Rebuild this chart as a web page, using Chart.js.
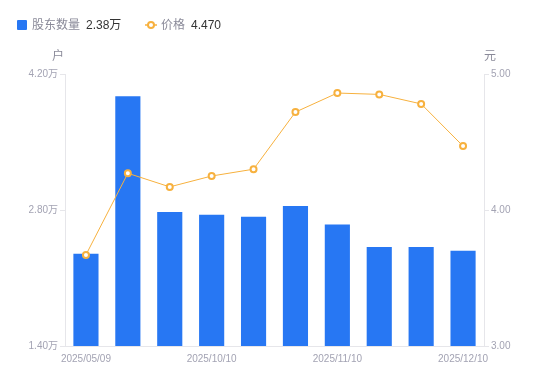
<!DOCTYPE html>
<html><head><meta charset="utf-8">
<script src="https://cdn.jsdelivr.net/npm/chart.js@4/dist/chart.umd.min.js"></script>
<style>
html,body{margin:0;padding:0;background:#fff;}
#wrap{position:relative;width:550px;height:381px;}
#legend{position:absolute;left:0;top:0;width:550px;height:40px;font-family:"Liberation Sans","Noto Sans CJK SC",sans-serif;font-size:12px;}
.lg{position:absolute;top:17px;line-height:16px;white-space:nowrap;}
.nm{color:#8a8a99;}
.vl{color:#333;margin-left:6px;}
</style></head>
<body>
<div id="wrap">
<canvas id="c" width="550" height="381"></canvas>
<div id="legend">
 <div class="lg" style="left:17px;"><span style="display:inline-block;width:10px;height:10px;background:#2777f3;border-radius:1px;vertical-align:-1px;margin-right:5px;"></span><span class="nm">股东数量</span><span class="vl">2.38万</span></div>
 <div class="lg" style="left:145px;"><svg width="12" height="10" style="vertical-align:-1px;margin-right:4px;"><line x1="0" y1="5" x2="12" y2="5" stroke="#f7b13e" stroke-width="1.5"/><circle cx="6" cy="5" r="3" fill="#fff" stroke="#f7b13e" stroke-width="2"/></svg><span class="nm">价格</span><span class="vl">4.470</span></div>
</div>
</div>
<script>
const categories = ["2025/05/09","2025/06/30","2025/09/30","2025/10/10","2025/10/20","2025/10/31","2025/11/10","2025/11/20","2025/11/28","2025/12/10"];
const holders = [2.35, 3.97, 2.78, 2.75, 2.73, 2.84, 2.65, 2.42, 2.42, 2.38];
const prices = [3.67, 4.27, 4.17, 4.25, 4.30, 4.72, 4.86, 4.85, 4.78, 4.47];
const leftTicks = [1.40, 2.80, 4.20];
const rightTicks = [3.00, 4.00, 5.00];

const FONT = '"Liberation Sans","Noto Sans CJK SC",sans-serif';
const tickColor = '#a3a3b3';
const lineColor = '#e6e6ea';

const axisTitles = {
  id: 'axisTitles',
  afterDraw(chart) {
    const ctx = chart.ctx;
    ctx.save();
    ctx.font = '12px ' + FONT;
    ctx.fillStyle = '#8a8a99';
    ctx.textBaseline = 'middle';
    ctx.textAlign = 'center';
    ctx.fillText('户', chart.scales.y.right - 7, 57);
    ctx.fillText('元', chart.scales.y1.left + 6, 57);
    ctx.restore();
  }
};

new Chart(document.getElementById('c'), {
  data: {
    labels: categories,
    datasets: [
      { type: 'line', label: '价格', data: prices, yAxisID: 'y1',
        borderColor: '#f7b13e', borderWidth: 1, backgroundColor: '#fff',
        pointRadius: 3, pointBorderWidth: 2, pointBackgroundColor: '#fff', pointBorderColor: '#f7b13e',
        tension: 0, order: 0 },
      { type: 'bar', label: '股东数量', data: holders, yAxisID: 'y',
        backgroundColor: '#2777f3', categoryPercentage: 0.6, barPercentage: 1, order: 1 }
    ]
  },
  options: {
    responsive: false, animation: false,
    layout: { padding: { top: 74, left: 0, right: 0, bottom: 0 } },
    plugins: { legend: { display: false }, tooltip: { enabled: false } },
    scales: {
      x: {
        grid: { display: false, drawTicks: false },
        border: { display: true, color: lineColor },
        ticks: { autoSkip: false, maxRotation: 0, padding: 7, color: tickColor, font: { family: FONT, size: 10 },
          callback: function(v, i) { return i % 3 === 0 ? categories[i] : ''; } },
        afterFit(s) { s.height = 35; }
      },
      y: {
        position: 'left', min: 1.4, max: 4.2,
        afterBuildTicks(s) { s.ticks = leftTicks.map(v => ({ value: v })); },
        grid: { drawOnChartArea: false, drawTicks: true, tickLength: 5, color: lineColor },
        border: { display: true, color: lineColor },
        ticks: { padding: 2, color: tickColor, font: { family: FONT, size: 10 },
          callback: v => v.toFixed(2) + '万' },
        afterFit(s) { s.width = 65; }
      },
      y1: {
        position: 'right', min: 3, max: 5,
        afterBuildTicks(s) { s.ticks = rightTicks.map(v => ({ value: v })); },
        grid: { drawOnChartArea: false, drawTicks: true, tickLength: 5, color: lineColor },
        border: { display: true, color: lineColor },
        ticks: { padding: 2, color: tickColor, font: { family: FONT, size: 10 },
          callback: v => v.toFixed(2) },
        afterFit(s) { s.width = 66; }
      }
    }
  },
  plugins: [axisTitles]
});
</script>
</body></html>
